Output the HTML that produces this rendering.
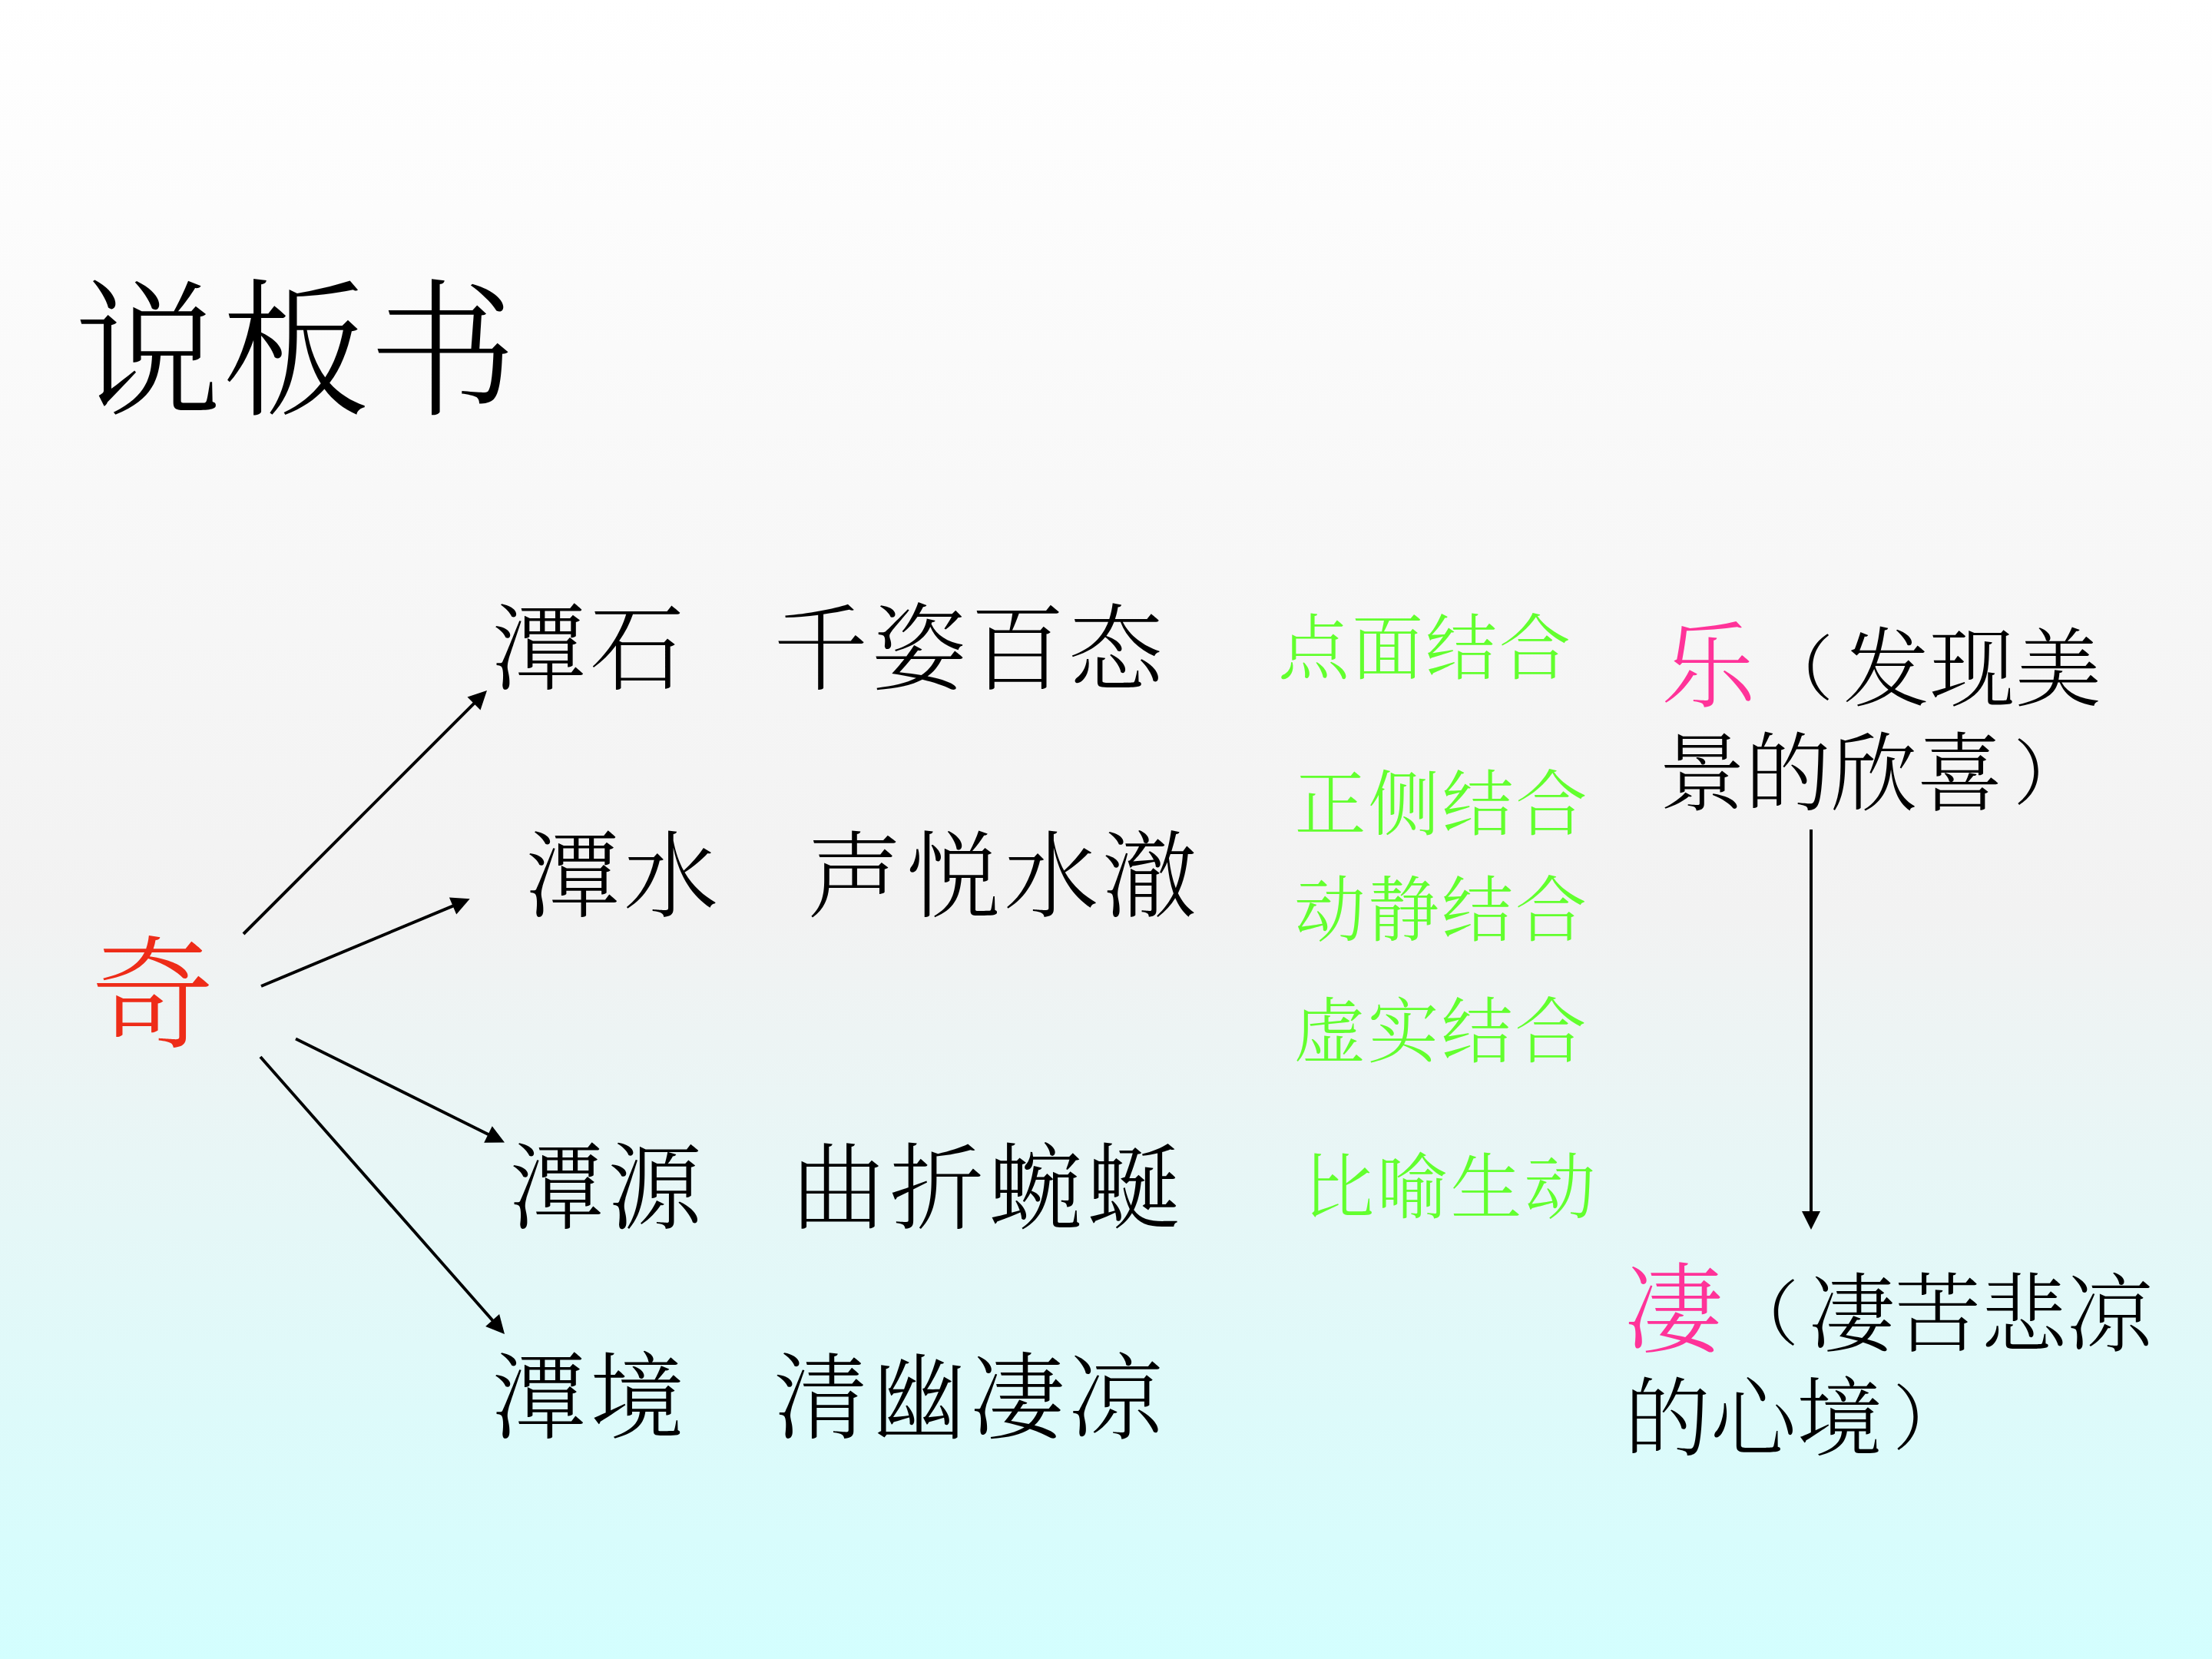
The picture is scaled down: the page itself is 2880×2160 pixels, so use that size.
<!DOCTYPE html>
<html lang="zh-CN">
<head>
<meta charset="utf-8">
<title>说板书</title>
<style>
html,body{margin:0;padding:0;}
body{width:2880px;height:2160px;overflow:hidden;position:relative;
  background:linear-gradient(to bottom,#ffffff 0%,#f2f2f2 55%,#d3fefe 100%);
  font-family:"Liberation Serif","Noto Serif CJK SC",serif;font-weight:300;color:#000;}
.t{position:absolute;white-space:pre;line-height:1;margin:0;}
.title{font-weight:300;font-size:192px;left:97px;top:365px;}
.row{font-size:123px;letter-spacing:5px;font-family:"Liberation Sans","Noto Serif CJK SC",serif;}
.sp{font-size:128px;letter-spacing:1.5px;}
.g{font-size:93px;letter-spacing:3px;color:#62ff2e;}
.r{font-size:112px;line-height:136px;}
.p{font-size:93px;position:relative;top:-7px;line-height:0;}
.pl{margin:0 13px 0 6px;}
.pr{margin:0 5.5px 0 13.5px;}
.pink{color:#ff3399;font-size:128px;line-height:0;}
.red{color:#ee2c18;font-size:160px;}
svg{position:absolute;left:0;top:0;}
</style>
</head>
<body>
<h1 class="t title">说板书</h1>

<div class="t row" style="left:640px;top:779.5px;">潭石<span class="sp">   </span>千姿百态</div>
<div class="t row" style="left:684px;top:1075.5px;">潭水<span class="sp">   </span>声悦水澈</div>
<div class="t row" style="left:663px;top:1482px;">潭源<span class="sp">   </span>曲折蜿蜒</div>
<div class="t row" style="left:640px;top:1754.5px;">潭境<span class="sp">   </span>清幽凄凉</div>

<div class="t g" style="left:1664px;top:798.5px;">点面结合</div>
<div class="t g" style="left:1685.5px;top:1002px;">正侧结合</div>
<div class="t g" style="left:1685px;top:1139.5px;">动静结合</div>
<div class="t g" style="left:1684.5px;top:1297.5px;">虚实结合</div>
<div class="t g" style="left:1696.5px;top:1501px;">比喻生动</div>

<div class="t red" style="left:119px;top:1218px;">奇</div>

<div class="t r" style="left:2160px;top:804.5px;"><span class="pink" style="font-size:123px;margin:0 2px 0 3px">乐</span><span class="p pl">（</span>发现美<br>景的欣喜<span class="p pr">）</span></div>
<div class="t r" style="left:2115px;top:1644.5px;"><span class="pink">凄</span><span class="p pl">（</span>凄苦悲凉<br>的心境<span class="p pr">）</span></div>

<svg width="2880" height="2160" viewBox="0 0 2880 2160">
  <g stroke="#000" stroke-width="4" fill="none">
    <line x1="317" y1="1216" x2="618.4" y2="914.6"/>
    <polygon points="634.0,899.0 625.5,924.5 608.5,907.5" fill="#000" stroke="none"/>
    <line x1="340" y1="1284" x2="591.4" y2="1178.8"/>
    <polygon points="611.7,1170.3 594.2,1190.6 584.9,1168.5" fill="#000" stroke="none"/>
    <line x1="385" y1="1352.5" x2="637.3" y2="1477.8"/>
    <polygon points="657.0,1487.6 630.2,1487.7 640.8,1466.2" fill="#000" stroke="none"/>
    <line x1="339" y1="1376" x2="642.5" y2="1720.5"/>
    <polygon points="657.0,1737.0 632.1,1726.9 650.1,1711.1" fill="#000" stroke="none"/>
    <line x1="2358" y1="1080" x2="2358.0" y2="1579.0"/>
    <polygon points="2358.0,1601.0 2346.0,1577.0 2370.0,1577.0" fill="#000" stroke="none"/>
  </g>
</svg>
</body>
</html>
